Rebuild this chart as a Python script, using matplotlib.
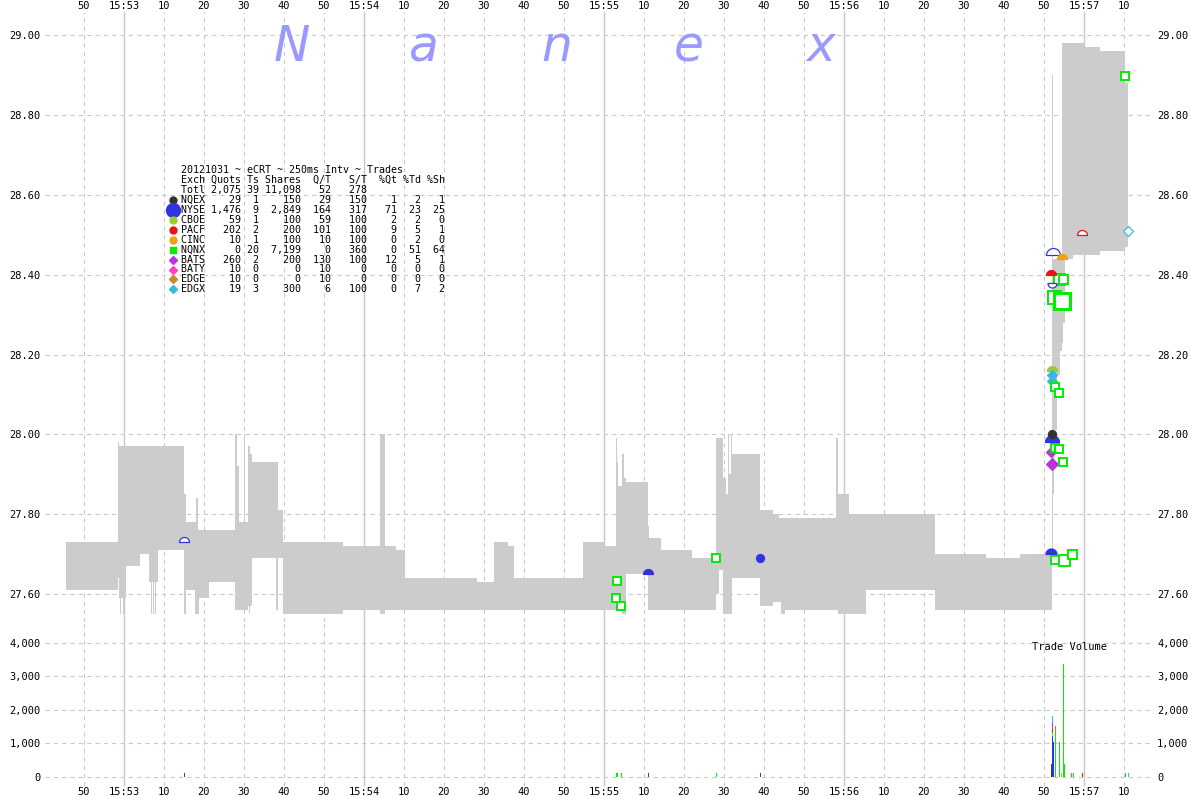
import numpy as np
import matplotlib
matplotlib.use("Agg")
from matplotlib import pyplot as plt
from matplotlib.path import Path
from matplotlib.ticker import FixedLocator, FuncFormatter

MONO = "DejaVu Sans Mono"
GRID = "#c8c8c8"
BAND = "#cccccc"

# time axis: seconds after 15:53:00
# NBBO band (bid .. ask), step at each start time
band_t = [-14.5, -1.5, -1.25, -1.0, -0.75, -0.25, 0.0, 0.5, 4.0, 6.25, 6.75, 7.0, 7.25, 7.5, 7.75, 8.0, 8.5,
          15.0, 15.5, 17.75, 18.0, 18.5, 18.75, 21.25, 27.75, 28.25, 28.75, 30.0, 30.25, 31.0, 31.25, 31.5,
          32.0, 38.0, 38.5, 39.75, 54.75, 64.0, 65.25, 68.0, 70.25, 88.25, 92.5, 96.0, 97.5, 114.75,
          120.25, 123.0, 123.25, 123.5, 124.5, 125.0, 125.5, 131.0, 131.25, 134.25, 142.0, 148.0, 148.75,
          149.75, 150.5, 151.0, 151.25, 151.75, 152.0, 159.0, 162.25, 163.75, 164.25, 165.25, 178.0,
          178.5, 181.25, 185.5, 202.75, 215.5, 224.0, 232.0, 232.25, 232.5, 233.25, 234.0, 234.5,
          234.75, 235.25, 237.25, 240.25, 244.0, 250.25]
band_bid = [27.61, 27.64, 27.59, 27.55, 27.59, 27.55, 27.59, 27.67, 27.70, 27.63, 27.55, 27.63, 27.55, 27.63, 27.55, 27.63, 27.71,
            27.55, 27.61, 27.55, 27.55, 27.55, 27.59, 27.63, 27.56, 27.56, 27.56, 27.56, 27.56, 27.57, 27.55, 27.57,
            27.69, 27.56, 27.69, 27.55, 27.56, 27.55, 27.56, 27.56, 27.56, 27.56, 27.56, 27.56, 27.56, 27.56,
            27.56, 27.56, 27.56, 27.56, 27.55, 27.55, 27.65, 27.56, 27.56, 27.56, 27.56, 27.60, 27.66,
            27.55, 27.55, 27.55, 27.55, 27.55, 27.64, 27.57, 27.58, 27.58, 27.55, 27.56, 27.56,
            27.55, 27.55, 27.61, 27.56, 27.56, 27.56, 27.70, 27.85, 28.01, 28.15, 28.21, 28.23,
            28.28, 28.44, 28.45, 28.45, 28.46, 28.47]
band_ask = [27.73, 27.98, 27.97, 27.97, 27.97, 27.97, 27.97, 27.97, 27.97, 27.97, 27.97, 27.97, 27.97, 27.97, 27.97, 27.97, 27.97,
            27.85, 27.78, 27.78, 27.84, 27.76, 27.76, 27.76, 28.00, 27.92, 27.78, 28.00, 27.78, 27.97, 27.97, 27.95,
            27.93, 27.93, 27.81, 27.73, 27.72, 28.00, 27.72, 27.71, 27.64, 27.63, 27.73, 27.72, 27.64, 27.73,
            27.72, 27.99, 27.93, 27.87, 27.95, 27.89, 27.88, 27.77, 27.74, 27.71, 27.69, 27.99, 27.99,
            27.89, 27.85, 28.00, 27.90, 28.00, 27.95, 27.81, 27.80, 27.79, 27.79, 27.79, 27.99,
            27.85, 27.80, 27.80, 27.70, 27.69, 27.70, 28.90, 28.44, 28.44, 28.44, 28.44, 28.98,
            28.98, 28.98, 28.98, 28.97, 28.96, 28.88]
band_end = 251.0

exch_names = ["NQEX", "NYSE", "CBOE", "PACF", "CINC", "NQNX", "BATS", "BATY", "EDGE", "EDGX"]
exch_colors = ["#333333", "#3333dd", "#99cc33", "#ee1111", "#f0a010", "#00ee00", "#bb33dd", "#ff44bb", "#cc8822", "#33bbdd"]
exch_legend_shape = ["o", "o", "o", "o", "o", "s", "D", "D", "D", "D"]
quots = ["29", "1,476", "59", "202", "10", "0", "260", "10", "10", "19"]
trades = ["1", "9", "1", "2", "1", "20", "2", "0", "0", "3"]
shares = ["150", "2,849", "100", "200", "100", "7,199", "200", "0", "0", "300"]
q_per_t = ["29", "164", "59", "101", "10", "0", "130", "10", "10", "6"]
s_per_t = ["150", "317", "100", "100", "100", "360", "100", "0", "0", "100"]
pct_qt = ["1", "71", "2", "9", "0", "0", "12", "0", "0", "0"]
pct_td = ["2", "23", "2", "5", "2", "51", "5", "0", "0", "7"]
pct_sh = ["1", "25", "0", "1", "0", "64", "1", "0", "0", "2"]
totals = ["Totl", "2,075", "39", "11,098", "52", "278", "", "", ""]

# trade / quote markers
mk_t = [15.0, 123.0, 123.25, 124.25, 131.0, 148.0, 159.0, 231.75, 232.75, 235.0, 237.0,
        231.75, 232.0, 232.75, 233.75, 234.75, 232.0, 232.0, 232.0, 232.0, 232.0, 232.75, 233.75,
        232.6, 234.6, 233.75, 234.75, 232.0, 231.75, 232.25, 234.5, 239.5, 250.25, 251.0]
mk_p = [27.73, 27.59, 27.633, 27.57, 27.65, 27.69, 27.69, 27.70, 27.686, 27.686, 27.70,
        27.957, 27.927, 27.967, 27.963, 27.93, 27.98, 28.00, 28.16, 28.15, 28.135, 28.119, 28.104,
        28.344, 28.334, 28.39, 28.39, 28.38, 28.40, 28.45, 28.44, 28.50, 28.898, 28.51]
mk_exch = ["NYSE", "NQNX", "NQNX", "NQNX", "NYSE", "NQNX", "NYSE", "NYSE", "NQNX", "NQNX", "NQNX",
           "BATS", "BATS", "NQNX", "NQNX", "NQNX", "NYSE", "NQEX", "CBOE", "EDGX", "EDGX", "NQNX", "NQNX",
           "NQNX", "NQNX", "NQNX", "NQNX", "NYSE", "PACF", "NYSE", "CINC", "PACF", "NQNX", "EDGX"]
mk_shape = ["top", "s", "s", "s", "top", "s", "o", "top", "s", "s", "s",
            "D", "D", "s", "s", "s", "top", "o", "top", "D", "D", "s", "s",
            "s", "s", "s", "s", "bot", "top", "top", "top", "top", "s", "D"]
mk_px = [10, 8, 8, 8, 10, 8, 8, 11, 8, 11, 9,
         7, 8, 8, 8, 8, 14, 8, 10, 7, 7, 8, 8,
         13, 16, 11, 9, 9, 10, 14, 10, 10, 8, 7]
mk_open = [1, 1, 1, 1, 0, 1, 0, 0, 1, 1, 1,
           0, 0, 1, 1, 1, 0, 0, 0, 0, 0, 1, 1,
           1, 1, 1, 1, 1, 0, 1, 0, 1, 1, 1]

# trade volume bars
vol_t = [15.0, 123.0, 123.25, 124.25, 131.0, 148.0, 159.0, 231.75, 231.75,
         232.0, 232.0, 232.0, 232.0, 232.0, 232.25, 232.75, 233.75, 234.25, 234.8, 235.1,
         236.9, 237.25, 239.6, 250.4, 251.1]
vol_exch = ["NYSE", "NQNX", "NQNX", "NQNX", "NYSE", "NQNX", "NYSE", "NQEX", "NYSE",
            "NYSE", "CBOE", "PACF", "BATS", "EDGX", "NYSE", "NQNX", "NQNX", "CINC", "NQNX", "NQNX",
            "NQNX", "NQNX", "PACF", "NQNX", "EDGX"]
vol_size = [100, 100, 100, 100, 100, 100, 100, 150, 230,
            1210, 100, 100, 200, 200, 1035, 1510, 1035, 100, 3360, 380,
            100, 100, 100, 100, 100]

color_of = dict(zip(exch_names, exch_colors))

ang = np.linspace(0, np.pi, 30)
arc = np.column_stack([np.cos(ang), np.sin(ang)])
top_half = Path(np.vstack([arc, arc[:1]]), closed=True)
bot_half = Path(np.vstack([arc * [1, -1], arc[:1]]), closed=True)
shape_of = {"top": top_half, "bot": bot_half, "o": "o", "s": "s", "D": "D"}


def tlabel(t, pos=None):
    tot = 15 * 3600 + 53 * 60 + int(round(t))
    h, rem = divmod(tot, 3600)
    m, s = divmod(rem, 60)
    if s == 0:
        return "%d:%02d" % (h, m)
    return "%d" % s


fig = plt.figure(figsize=(12, 8), dpi=100)
fig.patch.set_facecolor("white")
ax = fig.add_axes([45 / 1200, 1 - 622 / 800, 1108 / 1200, 610 / 800])
axv = fig.add_axes([45 / 1200, 1 - 786 / 800, 1108 / 1200, 164 / 800], sharex=ax)

xticks = np.arange(-10, 251, 10)
for a in (ax, axv):
    a.set_facecolor("white")
    for sp in a.spines.values():
        sp.set_visible(False)
    a.set_axisbelow(True)
    a.xaxis.set_major_locator(FixedLocator(xticks))
    a.grid(True, color=GRID, lw=0.75, ls=(0, (4, 4)))
    for t in xticks:
        if tlabel(t).startswith("15:"):
            a.axvline(t, color=GRID, lw=1.0, zorder=0.6)
    a.tick_params(length=0, labelsize=7.5, labelleft=True, labelright=True, pad=3)
    for lab in a.get_xticklabels() + a.get_yticklabels():
        lab.set_family(MONO)

ax.set_xlim(-19.75, 257.25)
ax.set_ylim(27.5298, 29.0586)
ax.set_yticks(np.arange(27.6, 29.01, 0.2))
ax.yaxis.set_major_formatter(FuncFormatter(lambda v, p: "%.2f" % v))
ax.xaxis.tick_top()
ax.xaxis.set_major_formatter(FuncFormatter(tlabel))
ax.tick_params(axis="x", pad=1, labeltop=True, labelbottom=False, length=0)

axv.set_ylim(-278, 4618)
axv.set_yticks([0, 1000, 2000, 3000, 4000])
axv.yaxis.set_major_formatter(FuncFormatter(lambda v, p: "{:,}".format(int(v))))
axv.tick_params(axis="x", pad=1, labelbottom=True, labeltop=False, length=0)
axv.xaxis.set_major_formatter(FuncFormatter(tlabel))
for a in (ax, axv):
    for lab in a.get_xticklabels() + a.get_yticklabels():
        lab.set_family(MONO)
        lab.set_fontsize(7.5)

# spread band
tt = np.array(band_t + [band_end])
bb = np.array(band_bid + band_bid[-1:])
aa = np.array(band_ask + band_ask[-1:])
ax.fill_between(tt, bb, aa, step="post", color=BAND, lw=0, antialiased=False, zorder=1)

# markers
for t, p, ex, sh, px, op in zip(mk_t, mk_p, mk_exch, mk_shape, mk_px, mk_open):
    c = color_of[ex]
    mew = 1.4 if sh == "s" else 0.9
    if px >= 15:
        mew = 2.2
    ax.plot([t], [p], ls="none", marker=shape_of[sh], ms=px * 0.72,
            mfc="white" if op else c, mec=c, mew=mew, zorder=3)

# volume bars (stacked where they share a time)
bottoms = {}
for t, ex, v in zip(vol_t, vol_exch, vol_size):
    b = bottoms.get(t, 0)
    axv.bar(t, v, width=0.25, bottom=b, color=color_of[ex], lw=0, antialiased=False, zorder=2)
    bottoms[t] = b + v

fig.text(1032 / 1200, 1 - 647 / 800, "Trade Volume", family=MONO, fontsize=7.5, va="center", ha="left")

# watermark
for i, ch in enumerate("Nanex"):
    fig.text((292 + 132.2 * i) / 1200, 1 - 61 / 800, ch, color="#9999ff", fontsize=35,
             style="italic", family="DejaVu Sans", ha="center", va="baseline")

# stats table
fmt = "{:<4}{:>6}{:>3}{:>7}{:>5}{:>6}{:>5}{:>4}{:>4}"
rows = ["20121031 ~ eCRT ~ 250ms Intv ~ Trades",
        fmt.format("Exch", "Quots", "Ts", "Shares", "Q/T", "S/T", "%Qt", "%Td", "%Sh"),
        fmt.format(*totals).rstrip()]
for i in range(len(exch_names)):
    rows.append(fmt.format(exch_names[i], quots[i], trades[i], shares[i], q_per_t[i],
                           s_per_t[i], pct_qt[i], pct_td[i], pct_sh[i]))
for i, r in enumerate(rows):
    y = 1 - (170 + 9.95 * i) / 800
    fig.text(181 / 1200, y, r, family=MONO, fontsize=7.2, va="center", ha="left")
    if i >= 3:
        k = i - 3
        ms = 10 if exch_names[k] == "NYSE" else 5
        if exch_legend_shape[k] == "D":
            ms = 4.5
        fig.lines.append(plt.Line2D([173.3 / 1200], [y], transform=fig.transFigure,
                                    marker=exch_legend_shape[k], ms=ms, ls="none",
                                    mfc=exch_colors[k], mec=exch_colors[k]))

fig.savefig("out.png", dpi=100, facecolor="white")
